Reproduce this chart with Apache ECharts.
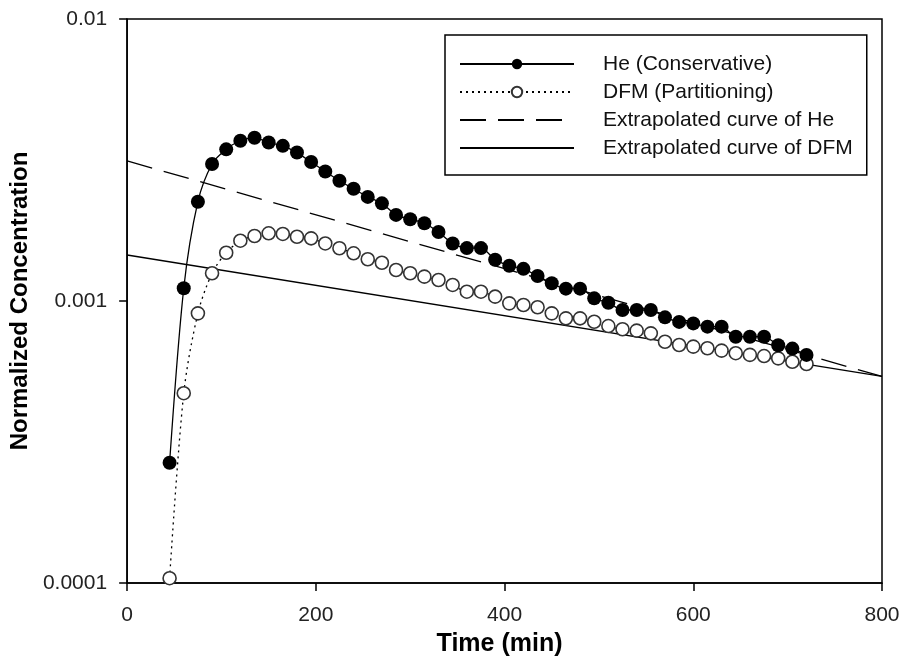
<!DOCTYPE html>
<html>
<head>
<meta charset="utf-8">
<script src="https://cdn.jsdelivr.net/npm/echarts@6/dist/echarts.min.js"></script>
<style>html,body{margin:0;padding:0;background:#fff}#c{width:904px;height:663px}</style>
</head>
<body>
<div id="c"></div>
<script>
var times = [45,60,75,90,105,120,135,150,165,180,195,210,225,240,255,270,285,300,315,330,345,360,375,390,405,420,435,450,465,480,495,510,525,540,555,570,585,600,615,630,645,660,675,690,705,720];
var heValues = [2.67e-4,1.11e-3,2.25e-3,3.06e-3,3.45e-3,3.70e-3,3.79e-3,3.65e-3,3.55e-3,3.36e-3,3.11e-3,2.88e-3,2.67e-3,2.50e-3,2.34e-3,2.22e-3,2.02e-3,1.95e-3,1.886e-3,1.757e-3,1.60e-3,1.54e-3,1.54e-3,1.40e-3,1.334e-3,1.30e-3,1.227e-3,1.156e-3,1.106e-3,1.106e-3,1.022e-3,9.86e-4,9.29e-4,9.29e-4,9.29e-4,8.75e-4,8.43e-4,8.33e-4,8.11e-4,8.11e-4,7.47e-4,7.47e-4,7.47e-4,6.97e-4,6.78e-4,6.44e-4];
var dfmValues = [1.04e-4,4.71e-4,9.04e-4,1.254e-3,1.483e-3,1.636e-3,1.70e-3,1.738e-3,1.729e-3,1.69e-3,1.668e-3,1.60e-3,1.538e-3,1.476e-3,1.406e-3,1.367e-3,1.288e-3,1.254e-3,1.22e-3,1.187e-3,1.14e-3,1.079e-3,1.079e-3,1.036e-3,9.81e-4,9.68e-4,9.50e-4,9.04e-4,8.68e-4,8.68e-4,8.44e-4,8.15e-4,7.94e-4,7.85e-4,7.68e-4,7.17e-4,6.98e-4,6.89e-4,6.80e-4,6.67e-4,6.53e-4,6.44e-4,6.38e-4,6.26e-4,6.09e-4,5.98e-4];
var extrapTimes = [0, 800];
var heExtrap = [3.14e-3, 5.4e-4];
var dfmExtrap = [1.456e-3, 5.4e-4];
var seriesNames = ['He (Conservative)','DFM (Partitioning)','Extrapolated curve of He','Extrapolated curve of DFM'];
var xTicks = [0,200,400,600,800];

function pairs(xs, ys){ return xs.map(function(x,i){ return [x, ys[i]]; }); }

var FONT = 'Liberation Sans, Arial, Helvetica, sans-serif';
var chart = echarts.init(document.getElementById('c'), null, {renderer:'canvas'});
chart.setOption({
  animation:false,
  backgroundColor:'#fff',
  textStyle:{fontFamily:FONT},
  grid:{left:127,right:22,top:19,bottom:80,show:true,borderColor:'#000',borderWidth:1.5,backgroundColor:'transparent'},
  legend:{
    data:[
      {name:seriesNames[0]},
      {name:seriesNames[1]},
      {name:seriesNames[2], itemStyle:{opacity:0}},
      {name:seriesNames[3], itemStyle:{opacity:0}}
    ],
    orient:'vertical',
    left:445, top:35,
    padding:[18,14,16,14],
    itemWidth:114, itemHeight:13, itemGap:6,
    borderColor:'#000', borderWidth:1.5,
    textStyle:{fontFamily:FONT,fontSize:21,color:'#111',lineHeight:22,padding:[0,0,0,24]}
  },
  xAxis:{
    type:'value', min:xTicks[0], max:xTicks[xTicks.length-1], interval:200,
    name:'Time (min)', nameLocation:'middle', nameGap:49,
    nameTextStyle:{fontFamily:FONT,fontSize:25,fontWeight:'bold',color:'#000',padding:[0,10,0,0]},
    axisLine:{show:true,lineStyle:{color:'#000',width:1.5}},
    axisTick:{show:true,inside:false,length:8,lineStyle:{color:'#000',width:1.5}},
    axisLabel:{fontFamily:FONT,fontSize:21,color:'#222',margin:22},
    splitLine:{show:false}
  },
  yAxis:{
    type:'log', logBase:10, min:0.0001, max:0.01,
    name:'Normalized Concentration', nameLocation:'middle', nameGap:93, nameRotate:90,
    nameTextStyle:{fontFamily:FONT,fontSize:24,fontWeight:'bold',color:'#000'},
    axisLine:{show:true,lineStyle:{color:'#000',width:1.5}},
    axisTick:{show:true,inside:false,length:8,lineStyle:{color:'#000',width:1.5}},
    axisLabel:{fontFamily:FONT,fontSize:21,color:'#222',margin:20,
      formatter:function(v){ return String(parseFloat(Number(v).toPrecision(6))); }},
    splitLine:{show:false},
    minorTick:{show:false}
  },
  series:[
    {
      name:seriesNames[1], type:'line', data:pairs(times, dfmValues),
      smooth:0.3, symbol:'circle', symbolSize:13,
      lineStyle:{color:'#000',width:1.3,type:[2,4]},
      itemStyle:{color:'#fff',borderColor:'#333',borderWidth:1.6}
    },
    {
      name:seriesNames[3], type:'line', data:pairs(extrapTimes, dfmExtrap),
      symbol:'none', lineStyle:{color:'#000',width:1.3}, itemStyle:{color:'#000'}
    },
    {
      name:seriesNames[2], type:'line', data:pairs(extrapTimes, heExtrap),
      symbol:'none', lineStyle:{color:'#000',width:1.3,type:[26,12]}, itemStyle:{color:'#000'}
    },
    {
      name:seriesNames[0], type:'line', data:pairs(times, heValues),
      smooth:0.3, symbol:'circle', symbolSize:14,
      lineStyle:{color:'#000',width:1.3},
      itemStyle:{color:'#000',borderColor:'#000',borderWidth:0}
    }
  ]
});
</script>
</body>
</html>
